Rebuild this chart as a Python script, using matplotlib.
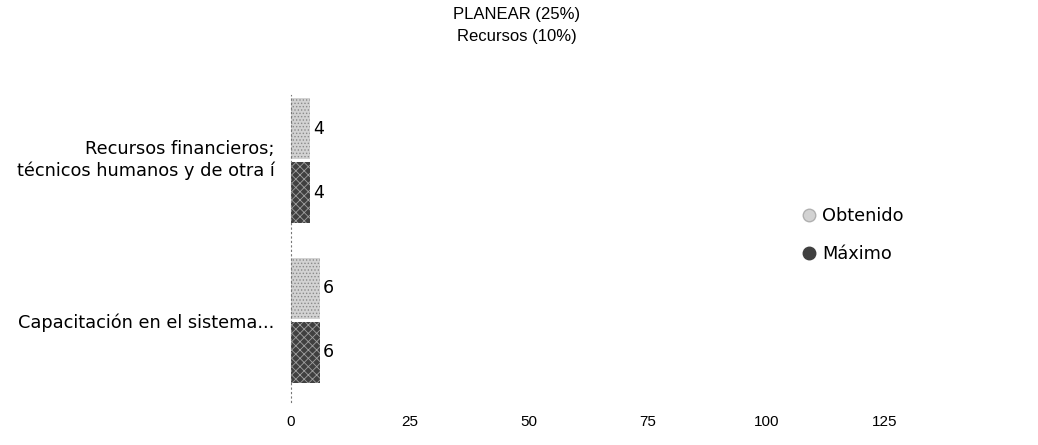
import matplotlib
matplotlib.use('Agg')
import matplotlib.pyplot as plt
import matplotlib.transforms as mtransforms
import numpy as np
from matplotlib.lines import Line2D

plt.rcParams['font.family'] = ['Liberation Sans', 'DejaVu Sans']
plt.rcParams['hatch.linewidth'] = 0.6
wide = ['DejaVu Sans']

# data
categories = ['Recursos financieros;\ntécnicos humanos y de otra í',
              'Capacitación en el sistema...']
obtenido = [4, 6]
maximo = [4, 6]
x_ticks = [0, 25, 50, 75, 100, 125]

fig = plt.figure(figsize=(10.38, 4.45), dpi=100)
ax = fig.add_axes([291 / 1038, 1 - 402 / 445, (885 - 291) / 1038, (402 - 95) / 445])

y = np.arange(len(categories))
h = 0.38
ax.barh(y - 0.2, obtenido, height=h, color='#d2d2d2', hatch='.....',
        edgecolor='#8a8a8a', linewidth=0, label='Obtenido')
ax.barh(y + 0.2, maximo, height=h, color='#404040', hatch='xxxx',
        edgecolor='#a0a0a0', linewidth=0, label='Máximo')

for yi, v in zip(y, obtenido):
    ax.text(v + 0.6, yi - 0.2, str(v), va='center', ha='left', fontsize=12.5, family=wide)
for yi, v in zip(y, maximo):
    ax.text(v + 0.6, yi + 0.2, str(v), va='center', ha='left', fontsize=12.5, family=wide)

ax.set_xlim(0, 125)
ax.set_ylim(1.51, -0.41)
ax.set_yticks(y)
ax.set_yticklabels(categories, fontsize=12.8, linespacing=1.2, family=wide)
ax.set_xticks(x_ticks)
ax.set_xticklabels([str(t) for t in x_ticks], fontsize=11)
ax.tick_params(axis='x', length=0, pad=9)
ax.tick_params(axis='y', length=0, pad=12)

# two-line label sits a little higher in the original
lab = ax.get_yticklabels()[0]
lab.set_transform(lab.get_transform() +
                  mtransforms.ScaledTranslation(0, 4 / 100, fig.dpi_scale_trans))

for s in ['top', 'right', 'bottom']:
    ax.spines[s].set_visible(False)
ax.spines['left'].set_linestyle((0, (1, 3)))
ax.spines['left'].set_color('#777777')
ax.spines['left'].set_linewidth(0.8)

fig.text(517 / 1038, 1 - 14 / 445, 'PLANEAR (25%)', ha='center', va='center', fontsize=12)
fig.text(517 / 1038, 1 - 37 / 445, 'Recursos (10%)', ha='center', va='center', fontsize=12)

handles = [Line2D([], [], marker='o', linestyle='none', markersize=9,
                  markerfacecolor='#d2d2d2', markeredgecolor='#b0b0b0'),
           Line2D([], [], marker='o', linestyle='none', markersize=9,
                  markerfacecolor='#404040', markeredgecolor='#404040')]
fig.legend(handles, ['Obtenido', 'Máximo'], loc='upper left',
           bbox_to_anchor=(781 / 1038, 1 - 191 / 445), frameon=False,
           prop={'family': wide, 'size': 12.8},
           handletextpad=0.0, handlelength=1.4, labelspacing=1.15)

fig.savefig('out.png', dpi=100)
